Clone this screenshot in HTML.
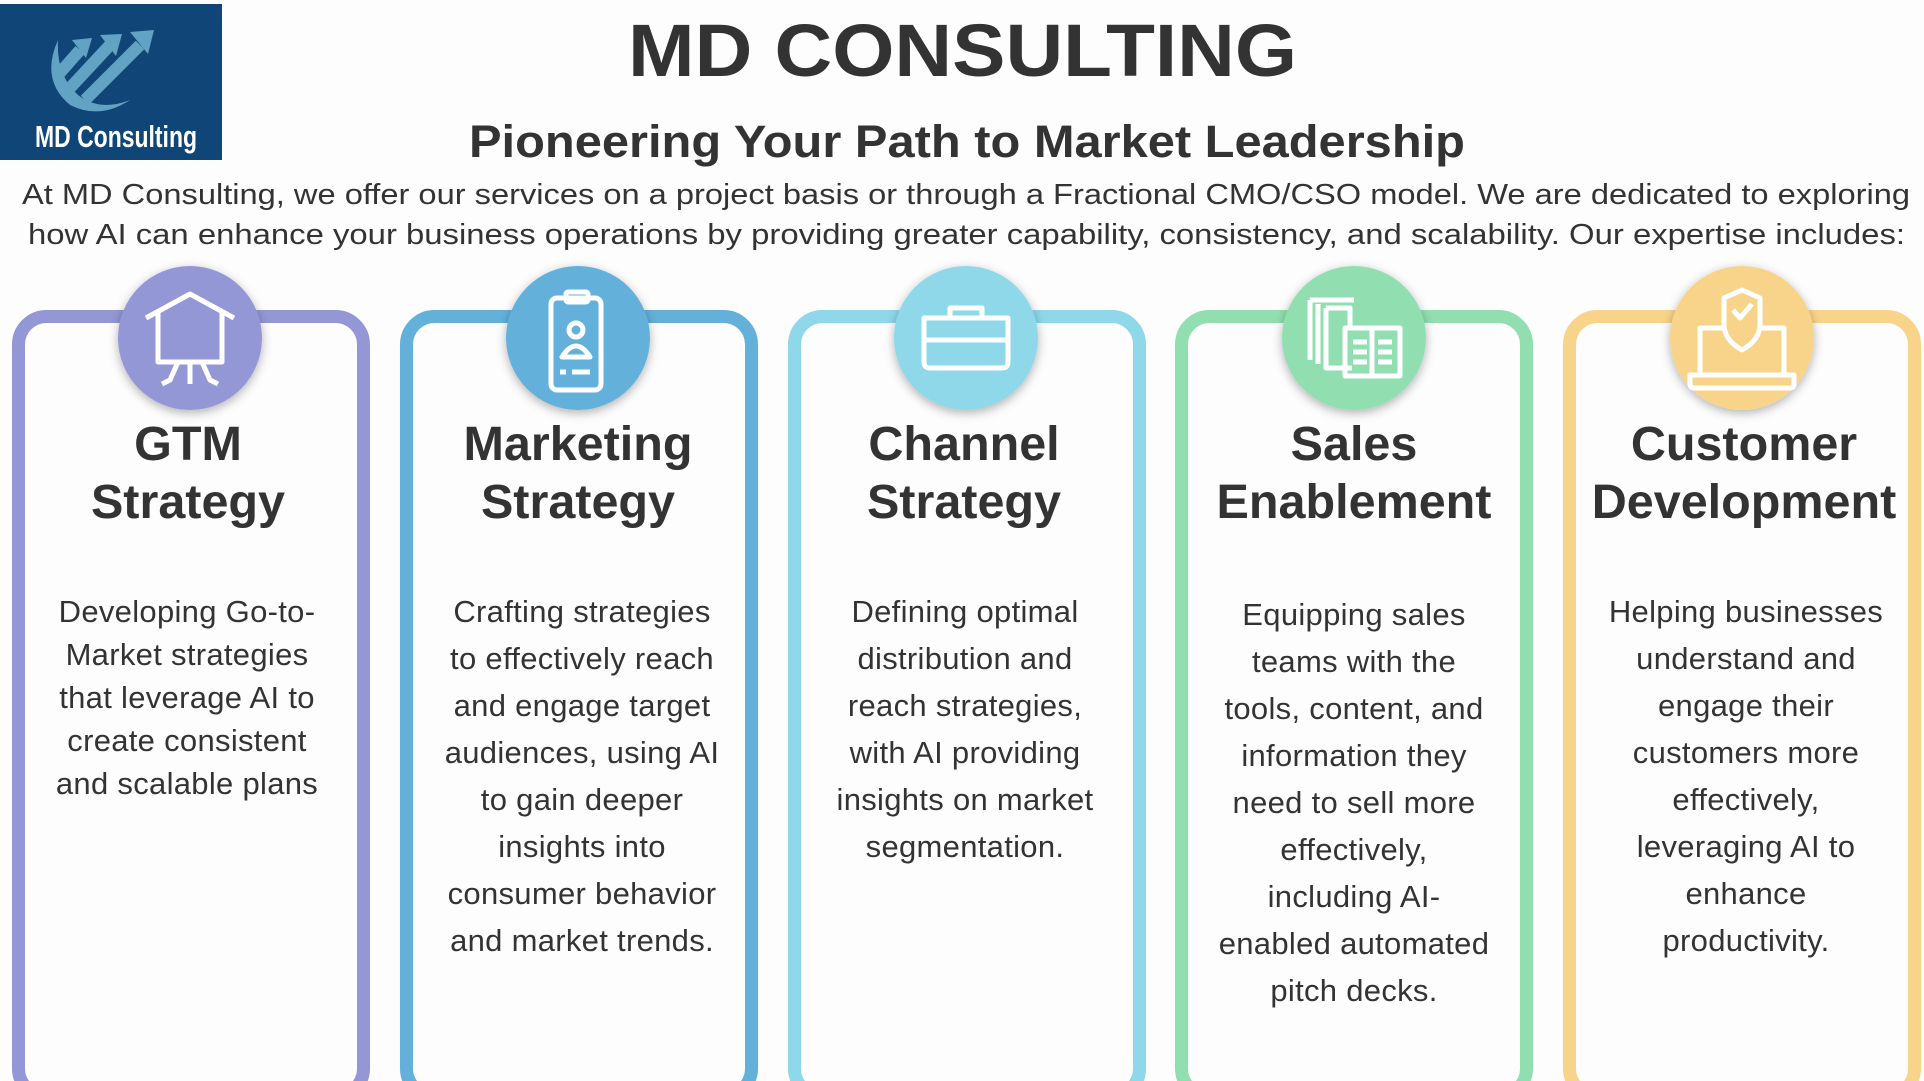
<!DOCTYPE html>
<html><head><meta charset="utf-8"><style>
html,body{margin:0;padding:0;background:#fdfdfd;}
svg{display:block;}
text{font-family:"Liberation Sans",sans-serif;fill:#333;}
.h{font-size:48.5px;font-weight:bold;text-anchor:middle;}
.b{font-size:31px;text-anchor:middle;letter-spacing:0.3px;}
</style></head><body>
<svg width="1924" height="1081" viewBox="0 0 1924 1081" xmlns="http://www.w3.org/2000/svg">
<defs>
<filter id="sh" x="-30%" y="-30%" width="160%" height="160%"><feDropShadow dx="0" dy="3" stdDeviation="5" flood-color="#000" flood-opacity="0.3"/></filter>
</defs>
<rect width="1924" height="1081" fill="#fdfdfd"/>
<!-- logo -->
<rect x="0" y="4" width="222" height="156" fill="#0f4677"/>
<path d="M58 40 Q40 80 70 105 Q100 120 130 100 Q100 112 78 95 Q56 75 58 40Z" fill="#62a2c2"/>
<g stroke="#62a2c2" stroke-width="12" fill="none"><path d="M58 75 L80 50"/><path d="M70 88 L110 45"/><path d="M85 100 L140 45"/></g>
<g fill="#62a2c2"><polygon points="72,40 92,38 86,58"/><polygon points="100,35 122,34 116,56"/><polygon points="130,32 154,30 148,54"/></g>
<text x="35" y="147" font-size="31" font-weight="bold" fill="#fff" style="fill:#fff" textLength="162" lengthAdjust="spacingAndGlyphs">MD Consulting</text>
<!-- titles -->
<text x="628" y="76" font-size="74" font-weight="bold" textLength="669" lengthAdjust="spacingAndGlyphs">MD CONSULTING</text>
<text x="469" y="157" font-size="45" font-weight="bold" textLength="996" lengthAdjust="spacingAndGlyphs">Pioneering Your Path to Market Leadership</text>
<text x="22" y="204" font-size="29" textLength="1888" lengthAdjust="spacingAndGlyphs">At MD Consulting, we offer our services on a project basis or through a Fractional CMO/CSO model. We are dedicated to exploring</text>
<text x="28" y="244" font-size="29" textLength="1877" lengthAdjust="spacingAndGlyphs">how AI can enhance your business operations by providing greater capability, consistency, and scalability. Our expertise includes:</text>
<!-- cards -->
<g fill="none" stroke-width="13">
<rect x="18.5" y="316.5" width="345" height="780" rx="28" stroke="#9497d6"/>
<rect x="406.5" y="316.5" width="345" height="780" rx="28" stroke="#63b0da"/>
<rect x="794.5" y="316.5" width="345" height="780" rx="28" stroke="#8ed8e9"/>
<rect x="1181.5" y="316.5" width="345" height="780" rx="28" stroke="#91dfb1"/>
<rect x="1569.5" y="316.5" width="345" height="780" rx="28" stroke="#f8d48a"/>
</g>
<g filter="url(#sh)">
<circle cx="190" cy="338" r="72" fill="#9497d6"/>
<circle cx="578" cy="338" r="72" fill="#63b0da"/>
<circle cx="966" cy="338" r="72" fill="#8ed8e9"/>
<circle cx="1354" cy="338" r="72" fill="#91dfb1"/>
<circle cx="1742" cy="338" r="72" fill="#f8d48a"/>
</g>
<!-- icons -->
<g stroke="#fff" stroke-width="5" fill="none" stroke-linejoin="round">
<path d="M146 318 L190 294 L234 318"/><path d="M158 312 V362 H222 V312"/>
<path d="M190 362 V384 M178 362 L170 380 L162 384 M202 362 L210 380 L218 384"/>
<rect x="551" y="298" width="50" height="92" rx="6"/><rect x="566" y="292" width="22" height="10" rx="2"/>
<circle cx="576" cy="330" r="7"/><path d="M562 357 Q576 335 590 357 Z"/><path d="M560 372 H566 M572 372 H590"/>
<path d="M924 318 H1008 V362 Q1008 368 1002 368 H930 Q924 368 924 362 Z M924 340 H1008 M950 318 V308 H982 V318"/>
<path d="M1310 300 V360 M1318 304 V364 M1326 308 V368 L1352 368 M1326 308 H1350 V330 M1354 300 H1310"/>
<path d="M1345 328 H1400 V376 H1345 Z M1372 330 V376 M1353 342 H1367 M1353 352 H1367 M1353 362 H1367 M1378 342 H1392 M1378 352 H1392 M1378 362 H1392"/>
<path d="M1700 328 H1784 V375 H1700 Z M1690 375 H1794 V384 Q1794 388 1790 388 H1694 Q1690 388 1690 384 Z"/>
<path d="M1742 290 L1760 298 V324 Q1760 340 1742 350 Q1724 340 1724 324 V298 Z" fill="#f8d48a"/><path d="M1733 310 L1740 318 L1752 304"/>
</g>
<!-- headings -->
<text class="h" x="188" y="460">GTM</text><text class="h" x="188" y="518">Strategy</text>
<text class="h" x="578" y="460">Marketing</text><text class="h" x="578" y="518">Strategy</text>
<text class="h" x="964" y="460">Channel</text><text class="h" x="964" y="518">Strategy</text>
<text class="h" x="1354" y="460">Sales</text><text class="h" x="1354" y="518">Enablement</text>
<text class="h" x="1744" y="460">Customer</text><text class="h" x="1744" y="518">Development</text>
<!-- bodies -->
<g>
<text class="b" x="187" y="622">Developing Go-to-</text>
<text class="b" x="187" y="665">Market strategies</text>
<text class="b" x="187" y="708">that leverage AI to</text>
<text class="b" x="187" y="751">create consistent</text>
<text class="b" x="187" y="794">and scalable plans</text>

<text class="b" x="582" y="622">Crafting strategies</text>
<text class="b" x="582" y="669">to effectively reach</text>
<text class="b" x="582" y="716">and engage target</text>
<text class="b" x="582" y="763">audiences, using AI</text>
<text class="b" x="582" y="810">to gain deeper</text>
<text class="b" x="582" y="857">insights into</text>
<text class="b" x="582" y="904">consumer behavior</text>
<text class="b" x="582" y="951">and market trends.</text>

<text class="b" x="965" y="622">Defining optimal</text>
<text class="b" x="965" y="669">distribution and</text>
<text class="b" x="965" y="716">reach strategies,</text>
<text class="b" x="965" y="763">with AI providing</text>
<text class="b" x="965" y="810">insights on market</text>
<text class="b" x="965" y="857">segmentation.</text>

<text class="b" x="1354" y="625">Equipping sales</text>
<text class="b" x="1354" y="672">teams with the</text>
<text class="b" x="1354" y="719">tools, content, and</text>
<text class="b" x="1354" y="766">information they</text>
<text class="b" x="1354" y="813">need to sell more</text>
<text class="b" x="1354" y="860">effectively,</text>
<text class="b" x="1354" y="907">including AI-</text>
<text class="b" x="1354" y="954">enabled automated</text>
<text class="b" x="1354" y="1001">pitch decks.</text>

<text class="b" x="1746" y="622">Helping businesses</text>
<text class="b" x="1746" y="669">understand and</text>
<text class="b" x="1746" y="716">engage their</text>
<text class="b" x="1746" y="763">customers more</text>
<text class="b" x="1746" y="810">effectively,</text>
<text class="b" x="1746" y="857">leveraging AI to</text>
<text class="b" x="1746" y="904">enhance</text>
<text class="b" x="1746" y="951">productivity.</text>
</g>
</svg>
</body></html>
